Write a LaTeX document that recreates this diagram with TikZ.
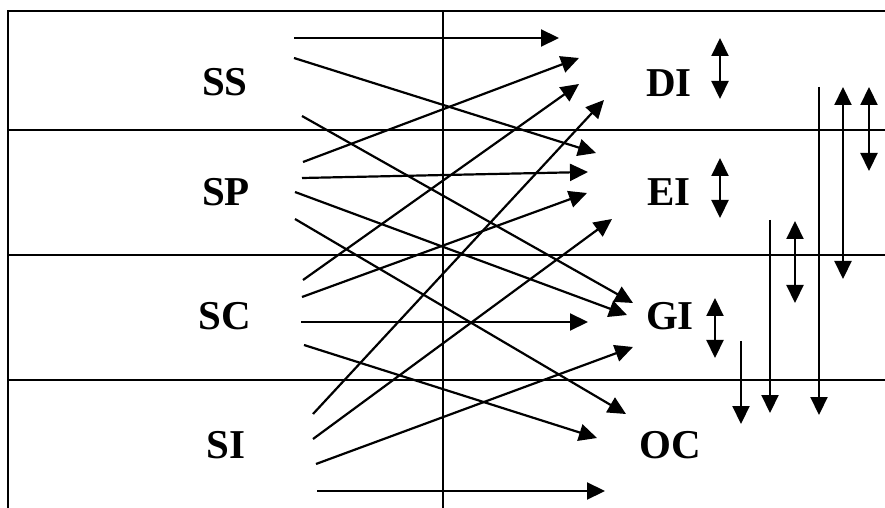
\documentclass[tikz,border=0pt]{standalone}
\usepackage{fontspec}
\setmainfont{Liberation Serif}
\usetikzlibrary{arrows.meta}

\begin{document}
\begin{tikzpicture}[
			x=0.5pt,
			y=-0.5pt,
			% Table frame
			frame/.style={
				draw=black,
				line width=1.1pt
			},
			% Transfer arrows
			flow/.style={
				-{Triangle[length=9pt,width=8.5pt]},
				line width=1.1pt
			},
			swap/.style={
				{Triangle[length=9pt,width=8.5pt]}-{Triangle[length=9pt,width=8.5pt]},
				line width=1.1pt
			},
			catname/.style={
				font=\fontsize{20.5}{24}\selectfont\bfseries,
				inner sep=0pt
			}
			]
			
			\useasboundingbox (0,0) rectangle (885,508);
			
			% Rows and middle divider
			\draw[frame] (8,508)--(8,11)--(885,11);
			\draw[frame] (8,130)--(885,130);
			\draw[frame] (8,255)--(885,255);
			\draw[frame] (8,380)--(885,380);
			\draw[frame] (443,11)--(443,508);
			
			% Source categories
			\node[catname] (SS) at (225,82) {SS};
			\node[catname] (SP) at (226,192) {SP};
			\node[catname] (SC) at (225,316) {SC};
			\node[catname] (SI) at (226,445) {SI};
			
			% Target categories
			\node[catname] (DI) at (669,83) {DI};
			\node[catname] (EI) at (669,192) {EI};
			\node[catname] (GI) at (670,316) {GI};
			\node[catname] (OC) at (670,445) {OC};
			
			% Arrow start points
			\coordinate (ss1) at (294,38);
			\coordinate (ss2) at (294,58);
			\coordinate (ss3) at (302,116);
			\coordinate (sp1) at (303,162);
			\coordinate (sp2) at (302,178);
			\coordinate (sp3) at (295,192);
			\coordinate (sp4) at (295,219);
			\coordinate (sc1) at (303,280);
			\coordinate (sc2) at (302,297);
			\coordinate (sc3) at (301,322);
			\coordinate (sc4) at (304,345);
			\coordinate (si1) at (313,414);
			\coordinate (si2) at (313,439);
			\coordinate (si3) at (316,464);
			\coordinate (si4) at (317,491);
			
			% Arrow end points
			\coordinate (di1) at (559,38);
			\coordinate (di2) at (579,58);
			\coordinate (di3) at (579,84);
			\coordinate (di4) at (604,100);
			\coordinate (ei1) at (596,153);
			\coordinate (ei2) at (588,172);
			\coordinate (ei3) at (587,193);
			\coordinate (ei4) at (612,219);
			\coordinate (gi1) at (633,303);
			\coordinate (gi2) at (627,315);
			\coordinate (gi3) at (588,322);
			\coordinate (gi4) at (633,347);
			\coordinate (oc1) at (626,414);
			\coordinate (oc2) at (597,438);
			\coordinate (oc3) at (605,491);
			
			% Transfers
			\draw[flow] (ss1)--(di1);
			\draw[flow] (ss2)--(ei1);
			\draw[flow] (ss3)--(gi1);
			\draw[flow] (sp1)--(di2);
			\draw[flow] (sp2)--(ei2);
			\draw[flow] (sp3)--(gi2);
			\draw[flow] (sp4)--(oc1);
			\draw[flow] (sc1)--(di3);
			\draw[flow] (sc2)--(ei3);
			\draw[flow] (sc3)--(gi3);
			\draw[flow] (sc4)--(oc2);
			\draw[flow] (si1)--(di4);
			\draw[flow] (si2)--(ei4);
			\draw[flow] (si3)--(gi4);
			\draw[flow] (si4)--(oc3);
			
			% Short double arrows beside targets
			\coordinate (diTop) at (720,38);
			\coordinate (diBot) at (720,99);
			\coordinate (eiTop) at (720,158);
			\coordinate (eiBot) at (720,218);
			\coordinate (giTop) at (715,298);
			\coordinate (giBot) at (715,358);
			\draw[swap] (diTop)--(diBot);
			\draw[swap] (eiTop)--(eiBot);
			\draw[swap] (giTop)--(giBot);
			
			% Long arrows on the right
			\coordinate (r1Top) at (741,341);
			\coordinate (r1Bot) at (741,424);
			\coordinate (r2Top) at (770,220);
			\coordinate (r2Bot) at (770,413);
			\coordinate (r3Top) at (795,221);
			\coordinate (r3Bot) at (795,303);
			\coordinate (r4Top) at (819,87);
			\coordinate (r4Bot) at (819,415);
			\coordinate (r5Top) at (843,87);
			\coordinate (r5Bot) at (843,279);
			\coordinate (r6Top) at (869,87);
			\coordinate (r6Bot) at (869,171);
			\draw[flow] (r1Top)--(r1Bot);
			\draw[flow] (r2Top)--(r2Bot);
			\draw[swap] (r3Top)--(r3Bot);
			\draw[flow] (r4Top)--(r4Bot);
			\draw[swap] (r5Top)--(r5Bot);
			\draw[swap] (r6Top)--(r6Bot);
			
		\end{tikzpicture}
\end{document}
